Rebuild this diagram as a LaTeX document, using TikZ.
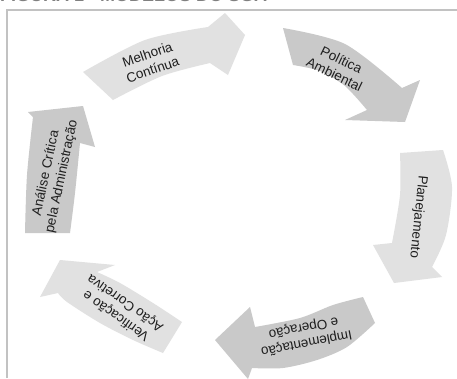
\documentclass[tikz,border=0pt]{standalone}
\usepackage{fontspec}
\setmainfont{Liberation Sans}
\definecolor{lightarrow}{HTML}{E1E1E1}
\definecolor{darkarrow}{HTML}{C9C9C9}
\definecolor{framegray}{HTML}{C2C2C2}
\definecolor{labeltext}{HTML}{1E1E1E}
\begin{document}
\begin{tikzpicture}[x=1pt,y=-1pt,
  lbl/.style={text=labeltext, font=\fontsize{13.5}{16}\selectfont, align=center, inner sep=0pt},
  lightarr/.style={fill=lightarrow},
  darkarr/.style={fill=darkarrow}]
\useasboundingbox (0,0) rectangle (457,378);
\clip (0,0) rectangle (457,378);
\fill[white] (0,0) rectangle (457,378);
\node[anchor=base west, font=\bfseries\fontsize{18}{20}\selectfont, text=black!50, inner sep=0pt] (title) at (0,1.5) {FIGURA 1 - MODELOS DO SGA};
\draw[framegray, line width=2pt] (6.5,378) -- (6.5,9.5) -- (457,9.5);

% Melhoria Continua
\fill[lightarr] plot[smooth] coordinates {(83,72) (145,40) (208,27)} -- (225,13) -- (245,35) -- (228,75) -- (210,63)
  -- plot[smooth] coordinates {(210,63) (162,76) (113,100)} -- cycle;
% Politica Ambiental
\fill[darkarr] plot[smooth] coordinates {(283,28) (345,44) (402,88)} -- (420,80) -- (405,122) -- (345,120) -- (367,110)
  -- plot[smooth] coordinates {(367,110) (345,86) (320,71) (293,65)} -- cycle;
% Planejamento
\fill[lightarr] plot[smooth] coordinates {(443,150) (452,187) (446,235) (432,267)} -- (442,277) -- (394,283) -- (373,245) -- (392,243)
  -- plot[smooth] coordinates {(392,243) (400,195) (400,153)} -- cycle;
% Implementacao
\fill[darkarr] plot[smooth] coordinates {(375,323) (347,347) (317,360) (283,368) (252,368)} -- (248,379) -- (215,340) -- (250,307) -- (255,327)
  -- plot[smooth] coordinates {(255,327) (300,318) (333,305) (363,297)} -- cycle;
% Verificacao
\fill[lightarr] plot[smooth] coordinates {(163,353) (133,340) (100,323) (67,302) (58,293)} -- (40,297) -- (60,260) -- (115,265) -- (97,272)
  -- plot[smooth] coordinates {(97,272) (120,283) (153,303) (182,322)} -- cycle;
% Analise
\fill[darkarr] plot[smooth] coordinates {(25,233) (27,175) (33,117)} -- (28,112) -- (83,106) -- (95,147) -- (80,143)
  -- plot[smooth] coordinates {(80,143) (75,193) (70,233)} -- cycle;

\node[lbl, rotate=19] (melhoria) at (150,62) {Melhoria\\Contínua};
\node[lbl, rotate=-26] (politica) at (338,67) {Política\\Ambiental};
\node[lbl, rotate=-96] (planejamento) at (418,217) {Planejamento};
\node[lbl, rotate=-169] (implementacao) at (305,335) {Implementação\\e Operação};
\node[lbl, rotate=145] (verificacao) at (121,309) {Verificação e\\Ação Corretiva};
\node[lbl, rotate=78] (analise) at (54,175) {Análise Crítica\\pela Administração};
\end{tikzpicture}
\end{document}
